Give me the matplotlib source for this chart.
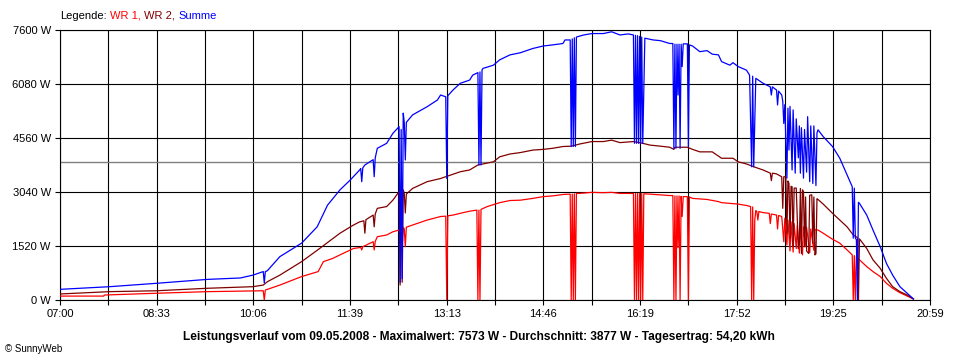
import numpy as np
import matplotlib
matplotlib.use("Agg")
import matplotlib.pyplot as plt

plt.rcParams["font.family"] = ["Liberation Sans", "DejaVu Sans"]

# Readings (time, W) taken off the SunnyWeb chart of 09.05.2008
wr1 = [("07:00", 110), ("07:42", 110), ("07:43", 140), ("08:33", 190), ("09:22", 235),
       ("10:06", 255), ("10:16", 260), ("10:17", 0), ("10:18", 280), ("10:32", 420),
       ("10:53", 660), ("11:09", 800), ("11:14", 1080), ("11:23", 1170), ("11:30", 1270),
       ("11:43", 1450), ("11:50", 1480), ("11:51", 1410), ("11:52", 1500), ("12:02", 1640),
       ("12:03", 1410), ("12:04", 1650), ("12:06", 1780), ("12:15", 1830), ("12:21", 1920),
       ("12:27", 1970), ("12:28", 1800), ("12:29", 1970), ("12:30", 1500), ("12:31", 2050),
       ("12:32", 2000), ("12:33", 1500), ("12:34", 2050), ("12:40", 2110),
       ("12:54", 2250), ("13:07", 2350), ("13:12", 2360), ("13:13", 0), ("13:14", 2370),
       ("13:19", 2390), ("13:26", 2440), ("13:35", 2500), ("13:42", 2530), ("13:43", 0),
       ("13:44", 2530), ("13:45", 0), ("13:46", 2550), ("13:52", 2630), ("14:04", 2740),
       ("14:14", 2800), ("14:24", 2810), ("14:36", 2860), ("14:46", 2910), ("14:55", 2930),
       ("15:05", 2970), ("15:12", 2980), ("15:13", 0), ("15:14", 2980), ("15:15", 0),
       ("15:16", 2990), ("15:17", 0), ("15:18", 3000), ("15:21", 3000), ("15:33", 3030),
       ("15:44", 3020), ("15:52", 3030), ("16:00", 3000), ("16:13", 3000), ("16:14", 0),
       ("16:15", 3000), ("16:16", 0), ("16:17", 3000), ("16:18", 0), ("16:19", 3000),
       ("16:20", 0), ("16:21", 3000), ("16:22", 0), ("16:23", 2990), ("16:29", 2980),
       ("16:39", 2960), ("16:48", 2940), ("16:51", 2940), ("16:52", 0), ("16:53", 2930),
       ("16:54", 0), ("16:55", 2930), ("16:56", 1470), ("16:57", 2930), ("16:58", 0),
       ("16:59", 2920), ("17:00", 2350), ("17:01", 2910), ("17:05", 2910), ("17:06", 0),
       ("17:07", 2900), ("17:10", 2860), ("17:24", 2830), ("17:35", 2770), ("17:38", 2740),
       ("17:46", 2720), ("17:54", 2700), ("18:02", 2660), ("18:06", 2630), ("18:07", 0),
       ("18:08", 2620), ("18:09", 0), ("18:10", 2250), ("18:11", 2520), ("18:12", 2490),
       ("18:13", 2250), ("18:14", 2490), ("18:18", 2460), ("18:24", 2440), ("18:25", 2150),
       ("18:26", 2420), ("18:31", 2390), ("18:32", 2000), ("18:33", 2380), ("18:36", 2350),
       ("18:38", 1640), ("18:39", 2300), ("18:41", 1550), ("18:42", 2250), ("18:44", 1380),
       ("18:45", 2200), ("18:47", 1350), ("18:48", 2150), ("18:50", 1450), ("18:51", 2100),
       ("18:53", 1320), ("18:54", 2080), ("18:56", 1270), ("18:57", 2060), ("18:59", 1500),
       ("19:00", 2040), ("19:03", 1330), ("19:04", 2000), ("19:07", 1400), ("19:08", 1980),
       ("19:11", 1970), ("19:16", 1880), ("19:25", 1710), ("19:32", 1600), ("19:39", 1410),
       ("19:44", 1270), ("19:45", 0), ("19:46", 1250), ("19:47", 0), ("19:48", 1230),
       ("19:51", 1130), ("19:58", 940), ("20:04", 800), ("20:11", 660), ("20:17", 470),
       ("20:23", 330), ("20:30", 206), ("20:37", 110), ("20:43", 30)]

wr2 = [("07:00", 170), ("07:48", 235), ("08:33", 260), ("09:22", 330), ("10:06", 375),
       ("10:16", 420), ("10:20", 515), ("10:32", 700), ("10:53", 1080), ("11:09", 1420),
       ("11:30", 1880), ("11:43", 2110), ("11:49", 2200), ("11:53", 2230), ("11:54", 1880),
       ("11:55", 2260), ("12:02", 2390), ("12:03", 2060), ("12:04", 2420), ("12:06", 2580),
       ("12:15", 2630), ("12:21", 2810), ("12:27", 3050), ("12:28", 420), ("12:29", 3000),
       ("12:30", 500), ("12:31", 3100), ("12:32", 3000), ("12:33", 2450), ("12:34", 2980),
       ("12:40", 3140),
       ("12:54", 3330), ("13:07", 3420), ("13:19", 3540), ("13:26", 3610), ("13:35", 3660),
       ("13:43", 3800), ("13:58", 3890), ("14:04", 4030), ("14:14", 4110), ("14:24", 4150),
       ("14:36", 4220), ("14:46", 4240), ("14:55", 4270), ("15:05", 4320), ("15:13", 4330),
       ("15:21", 4390), ("15:33", 4460), ("15:44", 4460), ("15:52", 4500), ("16:00", 4430),
       ("16:13", 4460), ("16:22", 4410), ("16:29", 4360), ("16:39", 4330), ("16:48", 4300),
       ("16:52", 4240), ("16:53", 4300), ("17:05", 4300), ("17:10", 4240), ("17:17", 4170),
       ("17:29", 4170), ("17:35", 4050), ("17:38", 3990), ("17:49", 3990), ("17:54", 3890),
       ("18:02", 3830), ("18:09", 3750), ("18:18", 3660), ("18:25", 3570), ("18:26", 3360),
       ("18:27", 3570), ("18:31", 3550), ("18:36", 3470), ("18:37", 2580), ("18:38", 3470),
       ("18:40", 3470), ("18:41", 1880), ("18:42", 3350), ("18:43", 3280), ("18:44", 1740),
       ("18:45", 3200), ("18:46", 3190), ("18:47", 1500), ("18:48", 3150), ("18:50", 3150),
       ("18:52", 1450), ("18:53", 1600), ("18:54", 3140), ("18:55", 1310), ("18:56", 3100),
       ("18:57", 3050), ("18:58", 1500), ("18:59", 2900), ("19:00", 1380), ("19:02", 1310),
       ("19:03", 2950), ("19:05", 2960), ("19:06", 1600), ("19:07", 2900), ("19:08", 1270),
       ("19:09", 1300), ("19:10", 2850), ("19:11", 2830), ("19:16", 2700), ("19:25", 2440),
       ("19:32", 2250), ("19:39", 2060), ("19:45", 1830), ("19:49", 1760), ("19:50", 0),
       ("19:51", 1720), ("19:58", 1450), ("20:04", 1130), ("20:11", 890), ("20:17", 610),
       ("20:23", 375), ("20:30", 235), ("20:37", 140), ("20:43", 30)]

summe = [("07:00", 300), ("07:48", 375), ("08:33", 470), ("09:22", 580), ("09:54", 620),
         ("10:06", 700), ("10:16", 800), ("10:17", 480), ("10:18", 800), ("10:20", 825),
         ("10:32", 1220), ("10:53", 1600), ("11:08", 2060), ("11:18", 2670), ("11:30", 3100),
         ("11:40", 3380), ("11:49", 3660), ("11:50", 3700), ("11:51", 3330), ("11:52", 3720),
         ("11:54", 3800), ("12:02", 3950), ("12:03", 3470), ("12:04", 4000), ("12:06", 4270),
         ("12:15", 4410), ("12:21", 4690), ("12:27", 4880), ("12:28", 500), ("12:29", 4800),
         ("12:30", 600), ("12:31", 5260), ("12:32", 5000), ("12:33", 3940), ("12:34", 5000),
         ("12:40", 5210), ("12:54", 5440), ("13:04", 5630), ("13:07", 5770), ("13:12", 5720),
         ("13:13", 3420), ("13:14", 5750), ("13:19", 5910), ("13:26", 6100), ("13:35", 6190),
         ("13:38", 6330), ("13:43", 6400), ("13:44", 3800), ("13:45", 6420), ("13:46", 3800),
         ("13:47", 6480), ("13:48", 6520), ("13:58", 6610), ("14:04", 6760), ("14:14", 6900),
         ("14:24", 6960), ("14:36", 7080), ("14:46", 7150), ("14:55", 7180), ("15:05", 7220),
         ("15:07", 7320), ("15:12", 7320), ("15:13", 4320), ("15:14", 7350), ("15:15", 4320),
         ("15:16", 7380), ("15:17", 4320), ("15:18", 7400), ("15:19", 7410), ("15:25", 7460),
         ("15:33", 7500), ("15:44", 7500), ("15:52", 7550), ("16:00", 7460), ("16:08", 7490),
         ("16:13", 7460), ("16:14", 4410), ("16:15", 7450), ("16:16", 4410), ("16:17", 7440),
         ("16:18", 4410), ("16:19", 7420), ("16:20", 4410), ("16:21", 7400), ("16:22", 4410),
         ("16:24", 7370), ("16:32", 7320), ("16:39", 7300), ("16:48", 7220), ("16:51", 7220),
         ("16:52", 4270), ("16:53", 7200), ("16:54", 4270), ("16:55", 7200), ("16:56", 5770),
         ("16:57", 7200), ("16:58", 4270), ("16:59", 7200), ("17:00", 6570), ("17:01", 7210),
         ("17:05", 7210), ("17:06", 4320), ("17:07", 7180), ("17:10", 7150), ("17:17", 6990),
         ("17:24", 7020), ("17:29", 6920), ("17:35", 6900), ("17:38", 6710), ("17:46", 6610),
         ("17:49", 6680), ("17:54", 6570), ("18:02", 6470), ("18:05", 6330), ("18:07", 3750),
         ("18:08", 6300), ("18:09", 3750), ("18:11", 6240), ("18:18", 6100), ("18:25", 6000),
         ("18:26", 5770), ("18:27", 6000), ("18:31", 5910), ("18:32", 5490), ("18:33", 5880),
         ("18:36", 5770), ("18:37", 5600), ("18:38", 4970), ("18:39", 5500), ("18:41", 3430),
         ("18:42", 5400), ("18:43", 4220), ("18:44", 5450), ("18:46", 3660), ("18:47", 5350),
         ("18:49", 3570), ("18:50", 5100), ("18:52", 4000), ("18:53", 4900), ("18:54", 3570),
         ("18:55", 4850), ("18:57", 3430), ("18:58", 4800), ("19:00", 3600), ("19:01", 5160),
         ("19:03", 3330), ("19:04", 4900), ("19:06", 3280), ("19:07", 4900), ("19:09", 3220),
         ("19:10", 4700), ("19:11", 4790), ("19:16", 4600), ("19:25", 4320), ("19:32", 3990),
         ("19:39", 3520), ("19:44", 3190), ("19:45", 1740), ("19:46", 3150), ("19:47", 1740),
         ("19:48", 1700), ("19:49", 0), ("19:50", 2750), ("19:51", 2720), ("19:58", 2390),
         ("20:04", 1970), ("20:11", 1500), ("20:17", 1030), ("20:23", 700), ("20:30", 375),
         ("20:37", 190), ("20:43", 30)]

durchschnitt = 3877
y_ticks = [0, 1520, 3040, 4560, 6080, 7600]
x_labels = ["07:00", "08:33", "10:06", "11:39", "13:13", "14:46", "16:19", "17:52", "19:25", "20:59"]


def minutes(s):
    h, m = s.split(":")
    return int(h) * 60 + int(m)


def split(series):
    t = np.array([minutes(a) for a, _ in series])
    w = np.array([b for _, b in series])
    return t, w


fig = plt.figure(figsize=(9.6, 3.6), dpi=100)
ax = fig.add_axes([60 / 960, 60 / 360, 870 / 960, 270 / 360])

ax.axhline(durchschnitt, color="#808080", lw=1.0, zorder=1)
for series, col in [(wr1, "#ff0000"), (wr2, "#800000"), (summe, "#0000ff")]:
    t, w = split(series)
    ax.plot(t, w, color=col, lw=0.9, zorder=3)

start, end = minutes("07:00"), minutes("20:59")
ax.set_xlim(start, end)
ax.set_ylim(0, 7600)
ticks = np.linspace(start, end, 19)
ax.set_xticks(ticks)
ax.set_xticklabels([x_labels[i // 2] if i % 2 == 0 else "" for i in range(19)])
ax.set_yticks(y_ticks)
ax.set_yticklabels([f"{v} W" for v in y_ticks])
ax.grid(True, color="black", lw=0.8, zorder=0)
ax.set_axisbelow(True)
for sp in ax.spines.values():
    sp.set_color("black")
    sp.set_linewidth(0.8)
ax.tick_params(direction="out", length=3.6, width=0.8, labelsize=8, colors="black")
ax.tick_params(axis="x", pad=3)
ax.tick_params(axis="y", pad=3)

# legend line on top
t0 = fig.text(60 / 960, 1 - 16 / 360, "Legende:", fontsize=8, va="center", ha="left")
prev = t0
for label, col in [("WR 1,", "#ff0000"), ("WR 2,", "#800000"), ("Summe", "#0000ff")]:
    prev = fig.add_artist(plt.Annotation(label, xy=(1, 0), xycoords=prev,
                                         xytext=(2.5, 0), textcoords="offset points",
                                         va="bottom", ha="left", fontsize=8, color=col))

fig.text(479 / 960, 1 - 337 / 360,
         "Leistungsverlauf vom 09.05.2008 - Maximalwert: 7573 W - Durchschnitt: 3877 W - Tagesertrag: 54,20 kWh",
         fontsize=8.6, fontweight="bold", ha="center", va="center")
fig.text(5 / 960, 1 - 349 / 360, "© SunnyWeb", fontsize=7, ha="left", va="center")

fig.savefig("out.png", dpi=100)
